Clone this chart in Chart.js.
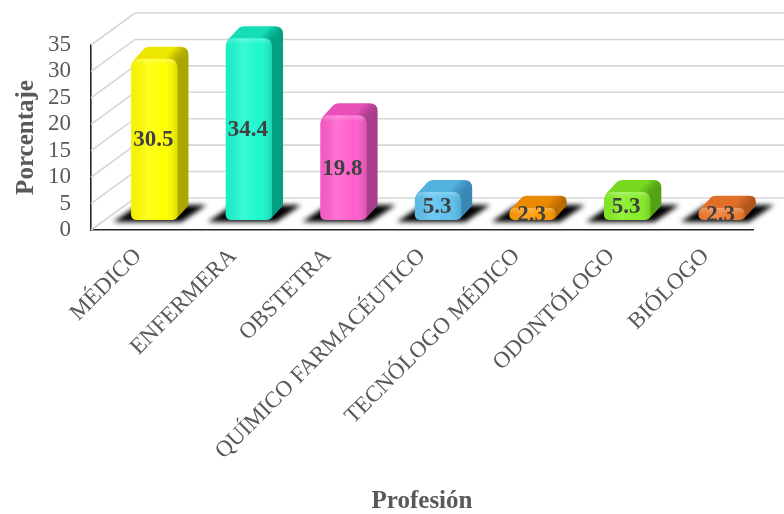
<!DOCTYPE html>
<html>
<head>
<meta charset="utf-8">
<script src="https://cdn.jsdelivr.net/npm/chart.js@4/dist/chart.umd.min.js"></script>
<style>
  html, body { margin: 0; padding: 0; background: #ffffff; }
  canvas { display: block; }
</style>
</head>
<body>
<canvas id="chart" width="784" height="514"></canvas>
<script>
// Profession shares (%)
const categories = ['MÉDICO', 'ENFERMERA', 'OBSTETRA', 'QUÍMICO FARMACÉUTICO', 'TECNÓLOGO MÉDICO', 'ODONTÓLOGO', 'BIÓLOGO'];
const percentages = [30.5, 34.4, 19.8, 5.3, 2.3, 5.3, 2.3];
const yMin = 0;
const yMax = 35;
const yStep = 5;

// Bar colours: front face, top cap, shaded side
const faceColors = ['#FFFF00', '#1EF8CF', '#FF5FCC', '#5EC2EE', '#FF9A00', '#86EE26', '#F07A2E'];
const capColors  = ['#ECE600', '#16DDB6', '#E84FB8', '#52B2E0', '#EA8A00', '#78D820', '#E07028'];
const sideColors = ['#A9A400', '#009E80', '#A63E8A', '#3A86B4', '#B56A00', '#52A012', '#AE541C'];

const FONT = '"Liberation Serif", "Times New Roman", serif';

// Oblique projection offsets
const WALL  = { dx: 44, dy: -32 };   // front plane -> back wall
const PLANE = { dx: 16, dy: -10 };   // front plane -> bar front faces
const DEPTH = { dx: 11, dy: -12 };   // bar thickness

function roundRectPath(ctx, x, y, w, h, rt, rb) {
  rt = Math.min(rt, w / 2, h / 2);
  rb = Math.min(rb, w / 2, Math.max(0, h - rt));
  ctx.beginPath();
  ctx.moveTo(x + rt, y);
  ctx.lineTo(x + w - rt, y);
  ctx.quadraticCurveTo(x + w, y, x + w, y + rt);
  ctx.lineTo(x + w, y + h - rb);
  ctx.quadraticCurveTo(x + w, y + h, x + w - rb, y + h);
  ctx.lineTo(x + rb, y + h);
  ctx.quadraticCurveTo(x, y + h, x, y + h - rb);
  ctx.lineTo(x, y + rt);
  ctx.quadraticCurveTo(x, y, x + rt, y);
  ctx.closePath();
}

function barBox(el) {
  const p = el.getProps(['x', 'y', 'base', 'width'], true);
  const top = Math.min(p.y, p.base);
  const bottom = Math.max(p.y, p.base);
  return { L: p.x - p.width / 2, R: p.x + p.width / 2, T: top, B: bottom, cx: p.x, w: p.width };
}

const RT = 8, RB = 5;

const scene3d = {
  id: 'scene3d',
  beforeDatasetsDraw(chart) {
    const { ctx, chartArea: a, scales: { y } } = chart;

    // back wall and side wall gridlines
    ctx.save();
    ctx.strokeStyle = '#d6d6d6';
    ctx.lineWidth = 1.6;
    for (let v = yMin; v <= yMax; v += yStep) {
      const py = y.getPixelForValue(v);
      ctx.beginPath();
      ctx.moveTo(a.left, py);
      ctx.lineTo(a.left + WALL.dx, py + WALL.dy);
      ctx.lineTo(a.right + WALL.dx, py + WALL.dy);
      ctx.stroke();
    }
    ctx.restore();

    const meta = chart.getDatasetMeta(0);

    // soft floor shadows
    ctx.save();
    ctx.filter = 'blur(2.5px)';
    ctx.fillStyle = '#000000';
    meta.data.forEach(el => {
      const b = barBox(el);
      const L = b.L + PLANE.dx, R = b.R + PLANE.dx, B = b.B + PLANE.dy;
      ctx.beginPath();
      ctx.moveTo(L - 18, B + 2);
      ctx.lineTo(R + 4, B + 2);
      ctx.lineTo(R + 29, B - 15);
      ctx.lineTo(L + 7, B - 15);
      ctx.closePath();
      ctx.fill();
    });
    ctx.restore();

    // move into the bar plane; front faces are drawn by the bar controller
    ctx.save();
    ctx.translate(PLANE.dx, PLANE.dy);

    // extruded body (top cap + side) behind each front face
    const N = 14;
    meta.data.forEach((el, i) => {
      const b = barBox(el);
      for (let k = N; k >= 1; k--) {
        const ox = DEPTH.dx * k / N, oy = DEPTH.dy * k / N;
        const g = ctx.createLinearGradient(b.L + ox, 0, b.R + ox, 0);
        g.addColorStop(0, capColors[i]);
        g.addColorStop(0.7, capColors[i]);
        g.addColorStop(1, sideColors[i]);
        ctx.fillStyle = g;
        roundRectPath(ctx, b.L + ox, b.T + oy, b.w, b.B - b.T, RT, RB);
        ctx.fill();
      }
    });
  },
  afterDatasetsDraw(chart) {
    const { ctx } = chart;
    const meta = chart.getDatasetMeta(0);

    // front face shading
    meta.data.forEach(el => {
      const b = barBox(el);
      ctx.save();
      roundRectPath(ctx, b.L, b.T, b.w, b.B - b.T, RT, RB);
      ctx.clip();
      const g = ctx.createLinearGradient(b.L, 0, b.R, 0);
      g.addColorStop(0, 'rgba(0,0,0,0.04)');
      g.addColorStop(0.35, 'rgba(255,255,255,0.12)');
      g.addColorStop(0.7, 'rgba(255,255,255,0)');
      g.addColorStop(1, 'rgba(0,0,0,0.14)');
      ctx.fillStyle = g;
      ctx.fillRect(b.L, b.T, b.w, b.B - b.T);
      const gv = ctx.createLinearGradient(0, b.T, 0, b.T + 6);
      gv.addColorStop(0, 'rgba(255,255,255,0.25)');
      gv.addColorStop(1, 'rgba(255,255,255,0)');
      ctx.fillStyle = gv;
      ctx.fillRect(b.L, b.T, b.w, 6);
      ctx.restore();
    });

    // value labels
    ctx.font = 'bold 23px ' + FONT;
    ctx.fillStyle = '#404040';
    ctx.textAlign = 'center';
    ctx.textBaseline = 'middle';
    meta.data.forEach((el, i) => {
      const b = barBox(el);
      ctx.fillText(String(percentages[i]), b.cx - 1, (b.T + b.B) / 2 + 1);
    });

    ctx.restore();
  }
};

new Chart(document.getElementById('chart'), {
  type: 'bar',
  data: {
    labels: categories,
    datasets: [{
      data: percentages,
      backgroundColor: faceColors,
      borderWidth: 0,
      borderSkipped: false,
      borderRadius: { topLeft: RT, topRight: RT, bottomLeft: RB, bottomRight: RB },
      categoryPercentage: 1,
      barPercentage: 0.49,
      clip: false
    }]
  },
  options: {
    responsive: false,
    devicePixelRatio: 1,
    animation: false,
    events: [],
    layout: { padding: { top: 45, right: 31, left: 0, bottom: 0 } },
    plugins: {
      legend: { display: false },
      tooltip: { enabled: false }
    },
    scales: {
      x: {
        grid: { display: false, drawTicks: false },
        border: { display: true, color: '#262626', width: 1.6 },
        ticks: {
          autoSkip: false,
          minRotation: 45,
          maxRotation: 45,
          padding: 13,
          color: '#595959',
          font: { family: FONT, size: 23 }
        },
        title: {
          display: true,
          text: 'Profesión',
          color: '#595959',
          padding: { top: 0, bottom: 0 },
          font: { family: FONT, size: 25, weight: 'bold', lineHeight: 1 }
        },
        afterFit(scale) { scale.height = 284; }
      },
      y: {
        min: yMin,
        max: yMax,
        grid: { display: false, drawTicks: false },
        border: { display: true, color: '#262626', width: 1.6 },
        ticks: {
          stepSize: yStep,
          autoSkip: false,
          padding: 20,
          color: '#595959',
          font: { family: FONT, size: 23 }
        },
        title: {
          display: true,
          text: 'Porcentaje',
          color: '#595959',
          padding: { top: 12, bottom: 0 },
          font: { family: FONT, size: 25, weight: 'bold' }
        },
        afterFit(scale) { scale.width = 91; }
      }
    }
  },
  plugins: [scene3d]
});
</script>
</body>
</html>
